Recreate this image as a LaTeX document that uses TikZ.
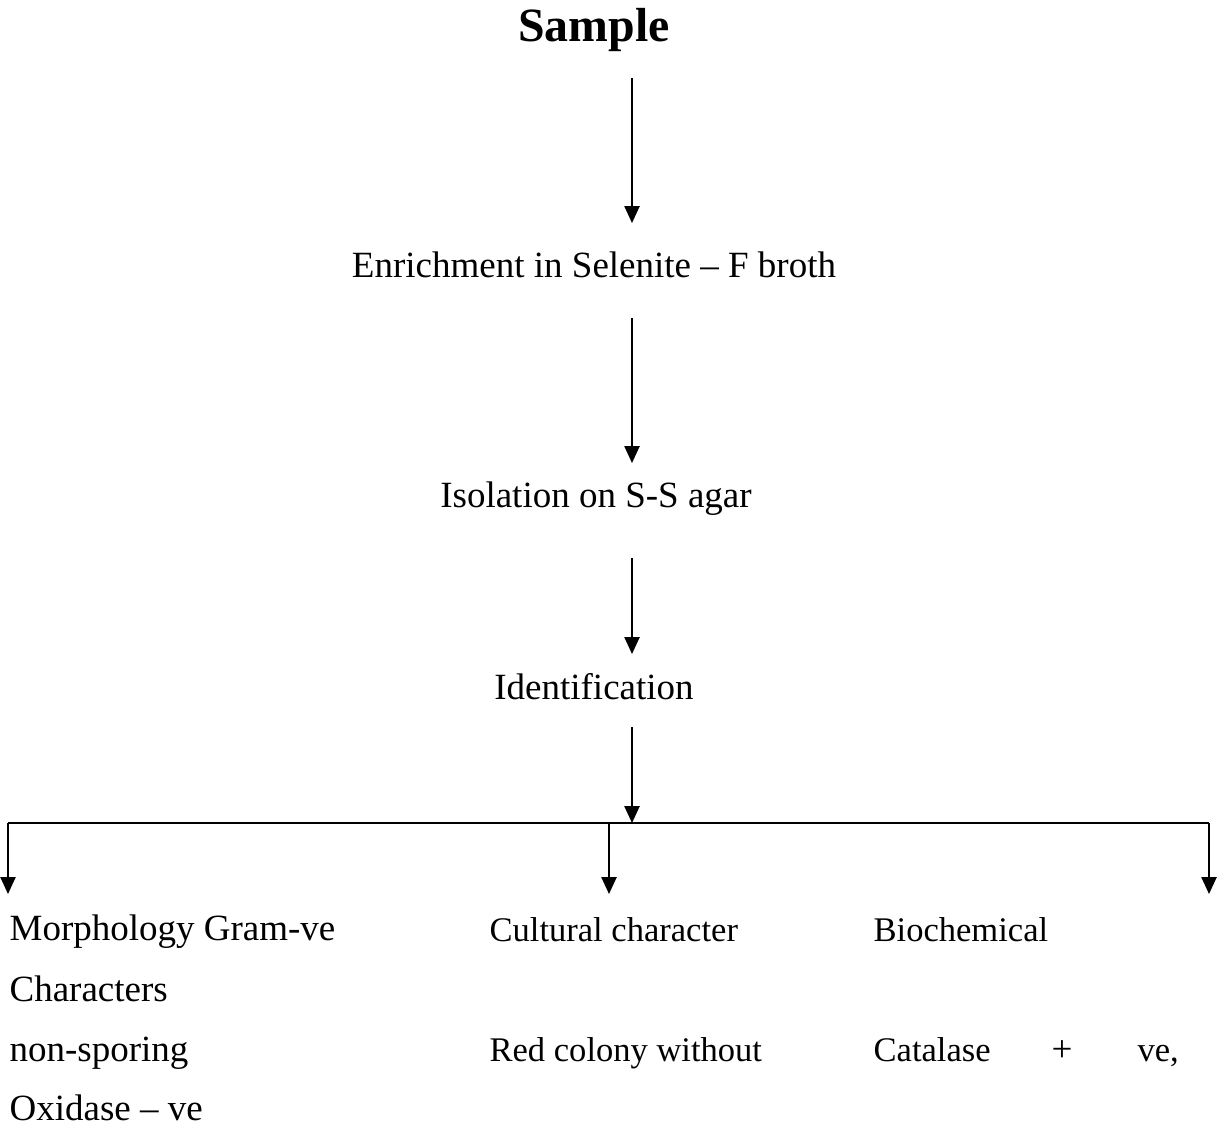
\documentclass[tikz,border=0pt]{standalone}
\usepackage{fontspec}
\setmainfont{Liberation Serif}
\usepackage{tikz}
\usetikzlibrary{arrows.meta,calc}

\begin{document}
\begin{tikzpicture}
[x=0.3243pt,y=-0.3243pt]
\tikzset{
	stage/.style = {inner sep = 0, anchor = base, font = \fontsize{12}{14}\selectfont},
	title/.style = {inner sep = 0, anchor = base, font = \fontsize{15.5}{18}\selectfont\bfseries},
	item/.style = {inner sep = 0, anchor = base west, font = \fontsize{12}{14}\selectfont},
	subitem/.style = {inner sep = 0, anchor = base west, font = \fontsize{11.2}{13}\selectfont},
	flow/.style = {line width = 0.65pt, -{Triangle[length=5.5pt,width=4.9pt]}},
	bar/.style = {line width = 0.65pt}
}
\useasboundingbox (0,0) rectangle (1217,1124);

% main column
\node(sample) [title] at (594,41) {Sample};
\node(enrich) [stage] at (594,277) {Enrichment in Selenite -- F broth};
\node(isol) [stage] at (596,507) {Isolation on S-S agar};
\node(ident) [stage] at (594,699) {Identification};

\coordinate(spine) at (632,0);
\coordinate(barL) at (8,823);
\coordinate(barM) at (609,823);
\coordinate(barR) at (1209,823);

\draw [flow] ($(sample.base -| spine)+(0,37)$) -- ($(enrich.base -| spine)-(0,54)$);
\draw [flow] ($(enrich.base -| spine)+(0,41)$) -- ($(isol.base -| spine)-(0,44)$);
\draw [flow] ($(isol.base -| spine)+(0,51)$) -- ($(ident.base -| spine)-(0,45)$);
\draw [flow] ($(ident.base -| spine)+(0,28)$) -- (barL -| spine);

% branches
\draw [bar] (barL) -- (barR);
\draw [flow] (barL) -- ++(0,71);
\draw [flow] (barM) -- ++(0,71);
\draw [flow] (barR) -- ++(0,71);

% left column
\node(morph) [item] at (9,940) {Morphology Gram-ve};
\node(charac) [item] at (9,1001) {Characters};
\node(spor) [item] at (9,1061) {non-sporing};
\node(oxid) [item] at (9,1120) {Oxidase -- ve};

% middle column
\node(cult) [subitem] at (489,941) {Cultural character};
\node(red) [subitem] at (489,1061) {Red colony without};

% right column
\node(bioch) [subitem] at (873,941) {Biochemical};
\node(catal) [subitem] at (873,1061) {Catalase};
\node(plus) [stage] at (1062,1061) {+};
\node(ve) [subitem] at (1137,1061) {ve,};

\end{tikzpicture}
\end{document}
